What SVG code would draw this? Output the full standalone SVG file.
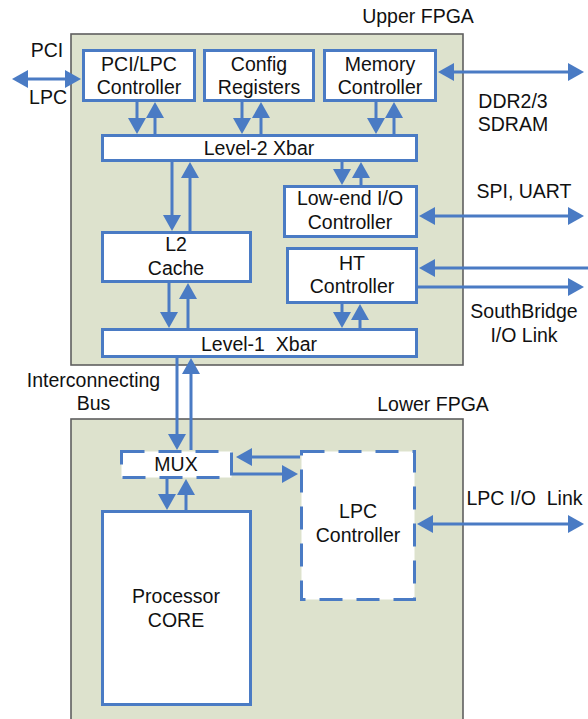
<svg xmlns="http://www.w3.org/2000/svg" width="588" height="719" viewBox="0 0 588 719">
  <style>
    .fpga { fill: #dde2cd; stroke: #5f5f5f; stroke-width: 1.6; }
    .blk { fill: #ffffff; stroke: #4a7bc4; stroke-width: 3; }
    .dash { fill: #ffffff; stroke: #4a7bc4; stroke-width: 3; stroke-dasharray: 23 14; }
    text { font-family: "Liberation Sans", Arial, sans-serif; font-size: 19.5px; fill: #111111; text-anchor: middle; }
    .wire { fill: none; stroke: #4a7bc4; stroke-width: 3; }
    .one { marker-end: url(#head); }
    .two { marker-start: url(#head); marker-end: url(#head); }
  </style>
  <defs>
    <marker id="head" markerUnits="userSpaceOnUse" markerWidth="16" markerHeight="18" viewBox="0 0 16 18" refX="5" refY="9" orient="auto-start-reverse">
      <path d="M0,0 L16,9 L0,18 z" fill="#4a7bc4"/>
    </marker>
  </defs>

  <!-- FPGA containers -->
  <g id="upper-fpga">
    <rect class="fpga" x="71" y="34" width="392" height="331"/>
    <text x="418" y="23">Upper FPGA</text>
  </g>
  <g id="lower-fpga">
    <rect class="fpga" x="71" y="419" width="392" height="310"/>
    <text x="433" y="411">Lower FPGA</text>
  </g>

  <!-- Upper FPGA blocks -->
  <g id="pci-lpc-controller">
    <rect class="blk" x="83.5" y="50.5" width="111" height="50"/>
    <text x="139" y="71">PCI/LPC</text>
    <text x="139" y="94">Controller</text>
  </g>
  <g id="config-registers">
    <rect class="blk" x="204.5" y="50.5" width="109" height="50"/>
    <text x="259" y="71">Config</text>
    <text x="259" y="94">Registers</text>
  </g>
  <g id="memory-controller">
    <rect class="blk" x="324.5" y="50.5" width="111" height="50"/>
    <text x="380" y="71">Memory</text>
    <text x="380" y="94">Controller</text>
  </g>
  <g id="level2-xbar">
    <rect class="blk" x="102.5" y="135.5" width="314" height="25"/>
    <text x="259" y="155">Level-2 Xbar</text>
  </g>
  <g id="lowend-io-controller">
    <rect class="blk" x="284.5" y="186.5" width="132" height="50"/>
    <text x="350" y="205">Low-end I/O</text>
    <text x="350" y="229">Controller</text>
  </g>
  <g id="ht-controller">
    <rect class="blk" x="287.5" y="248.5" width="129" height="54"/>
    <text x="352" y="270">HT</text>
    <text x="352" y="293">Controller</text>
  </g>
  <g id="l2-cache">
    <rect class="blk" x="102.5" y="232.5" width="148" height="49"/>
    <text x="176" y="251">L2</text>
    <text x="176" y="275">Cache</text>
  </g>
  <g id="level1-xbar">
    <rect class="blk" x="102.5" y="329.5" width="314" height="27"/>
    <text x="259" y="351" xml:space="preserve">Level-1  Xbar</text>
  </g>

  <!-- Lower FPGA blocks -->
  <g id="mux">
    <rect class="dash" x="121.5" y="451.5" width="110" height="26"/>
    <text x="176" y="471">MUX</text>
  </g>
  <g id="processor-core">
    <rect class="blk" x="102.5" y="511.5" width="148" height="193"/>
    <text x="176" y="603">Processor</text>
    <text x="176" y="627">CORE</text>
  </g>
  <g id="lpc-controller">
    <rect class="dash" x="301.5" y="451.5" width="113" height="148"/>
    <text x="358" y="518">LPC</text>
    <text x="358" y="542">Controller</text>
  </g>

  <!-- External interface labels -->
  <g id="labels">
    <text x="47" y="57">PCI</text>
    <text x="48" y="104">LPC</text>
    <text x="513" y="108">DDR2/3</text>
    <text x="513" y="131">SDRAM</text>
    <text x="524" y="198">SPI, UART</text>
    <text x="524" y="318">SouthBridge</text>
    <text x="524" y="342">I/O Link</text>
    <text x="93.5" y="387">Interconnecting</text>
    <text x="93.5" y="410">Bus</text>
    <text x="524.5" y="505" xml:space="preserve">LPC I/O  Link</text>
  </g>

  <!-- Connectors (arrow tips sit 11px past each line end) -->
  <g id="connectors">
    <!-- external links -->
    <path class="wire two" d="M23,79 H70"/>
    <path class="wire two" d="M449,72 H573"/>
    <path class="wire two" d="M430,216 H573"/>
    <path class="wire one" d="M588,268 H430"/>
    <path class="wire one" d="M418,287 H573"/>
    <path class="wire two" d="M428,524 H573"/>

    <!-- controllers to Level-2 Xbar -->
    <path class="wire one" d="M137,102 V123"/>
    <path class="wire one" d="M155,134 V113"/>
    <path class="wire one" d="M242,102 V123"/>
    <path class="wire one" d="M261,134 V113"/>
    <path class="wire one" d="M376,102 V123"/>
    <path class="wire one" d="M394,134 V113"/>

    <!-- Level-2 Xbar to Low-end I/O -->
    <path class="wire one" d="M342,162 V174"/>
    <path class="wire one" d="M361,185 V173"/>

    <!-- Level-2 Xbar to L2 Cache -->
    <path class="wire one" d="M172,162 V220"/>
    <path class="wire one" d="M190,231 V173"/>

    <!-- L2 Cache to Level-1 Xbar -->
    <path class="wire one" d="M169,283 V317"/>
    <path class="wire one" d="M188,328 V294"/>

    <!-- HT Controller to Level-1 Xbar -->
    <path class="wire one" d="M342,304 V317"/>
    <path class="wire one" d="M360,328 V315"/>

    <!-- interconnecting bus -->
    <path class="wire one" d="M177,358 V439"/>
    <path class="wire one" d="M191,450 V369"/>

    <!-- MUX to Processor CORE -->
    <path class="wire one" d="M167,479 V499"/>
    <path class="wire one" d="M186,510 V490"/>

    <!-- MUX to LPC Controller -->
    <path class="wire one" d="M300,457 H247"/>
    <path class="wire one" d="M233,474 H287"/>
  </g>
</svg>
